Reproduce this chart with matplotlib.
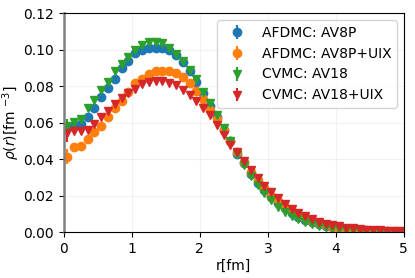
import numpy as np
import matplotlib
matplotlib.use("Agg")
import matplotlib.pyplot as plt

# radial grid (fm)
r = np.arange(0.05, 5.0, 0.1)

# density profiles
rho_av8p = [0.057, 0.058, 0.059, 0.063, 0.068, 0.074, 0.079, 0.084, 0.090, 0.094,
            0.098, 0.100, 0.101, 0.101, 0.101, 0.100, 0.097, 0.093, 0.088, 0.082,
            0.076, 0.069, 0.063, 0.056, 0.050, 0.043, 0.038, 0.032, 0.027, 0.023,
            0.019, 0.016, 0.013, 0.0105, 0.0085, 0.0068, 0.0054, 0.0043, 0.0034, 0.0027,
            0.0021, 0.0017, 0.0013, 0.0010, 0.0008, 0.0006, 0.0005, 0.0004, 0.0003, 0.0002]
err_av8p = [0.002, 0.001, 0.001, 0.0008, 0.0006, 0.0005, 0.0005, 0.0005, 0.0004, 0.0004,
            0.0004, 0.0004, 0.0004, 0.0004, 0.0004, 0.0004, 0.0004, 0.0004, 0.0004, 0.0004,
            0.0003, 0.0003, 0.0003, 0.0003, 0.0003, 0.0003, 0.0002, 0.0002, 0.0002, 0.0002,
            0.0002, 0.0002, 0.0002, 0.0001, 0.0001, 0.0001, 0.0001, 0.0001, 0.0001, 0.0001,
            0.0001, 0.0001, 0.0001, 0.0001, 0.0001, 0.0001, 0.0001, 0.0001, 0.0001, 0.0001]

rho_av8p_uix = [0.0413, 0.0464, 0.047, 0.0508, 0.055, 0.058, 0.063, 0.068, 0.072, 0.077,
                0.0815, 0.084, 0.0865, 0.088, 0.0885, 0.0885, 0.087, 0.0848, 0.0818, 0.0775,
                0.073, 0.067, 0.062, 0.056, 0.050, 0.044, 0.0385, 0.033, 0.0285, 0.024,
                0.020, 0.017, 0.014, 0.0115, 0.0093, 0.0075, 0.006, 0.0048, 0.0038, 0.003,
                0.0024, 0.0019, 0.0015, 0.0012, 0.0009, 0.0007, 0.00055, 0.00045, 0.00035, 0.0003]
err_av8p_uix = [0.004, 0.0015, 0.001, 0.0008, 0.0006, 0.0005, 0.0005, 0.0005, 0.0004, 0.0004,
                0.0004, 0.0004, 0.0004, 0.0004, 0.0004, 0.0004, 0.0004, 0.0004, 0.0004, 0.0004,
                0.0003, 0.0003, 0.0003, 0.0003, 0.0003, 0.0003, 0.0002, 0.0002, 0.0002, 0.0002,
                0.0002, 0.0002, 0.0002, 0.0001, 0.0001, 0.0001, 0.0001, 0.0001, 0.0001, 0.0001,
                0.0001, 0.0001, 0.0001, 0.0001, 0.0001, 0.0001, 0.0001, 0.0001, 0.0001, 0.0001]

rho_av18 = [0.058, 0.0605, 0.062, 0.068, 0.0725, 0.078, 0.0825, 0.088, 0.092, 0.096,
            0.100, 0.1025, 0.104, 0.104, 0.1035, 0.101, 0.0975, 0.094, 0.089, 0.084,
            0.077, 0.071, 0.064, 0.057, 0.050, 0.043, 0.037, 0.031, 0.026, 0.0215,
            0.0175, 0.014, 0.011, 0.0088, 0.007, 0.0055, 0.0043, 0.0033, 0.0026, 0.002,
            0.0015, 0.0012, 0.0009, 0.0007, 0.0005, 0.0004, 0.0003, 0.0002, 0.00015, 0.0001]
err_av18 = [0.004, 0.0015, 0.001, 0.0008, 0.0006, 0.0005, 0.0005, 0.0005, 0.0004, 0.0004,
            0.0004, 0.0004, 0.0004, 0.0004, 0.0004, 0.0004, 0.0004, 0.0004, 0.0004, 0.0004,
            0.0003, 0.0003, 0.0003, 0.0003, 0.0003, 0.0003, 0.0002, 0.0002, 0.0002, 0.0002,
            0.0002, 0.0002, 0.0002, 0.0001, 0.0001, 0.0001, 0.0001, 0.0001, 0.0001, 0.0001,
            0.0001, 0.0001, 0.0001, 0.0001, 0.0001, 0.0001, 0.0001, 0.0001, 0.0001, 0.0001]

rho_av18_uix = [0.0545, 0.0555, 0.0555, 0.0558, 0.0595, 0.063, 0.0663, 0.070, 0.0736, 0.076,
                0.0785, 0.081, 0.082, 0.0827, 0.0827, 0.0815, 0.0805, 0.0778, 0.075, 0.0718,
                0.068, 0.064, 0.0585, 0.053, 0.048, 0.044, 0.039, 0.034, 0.0295, 0.0255,
                0.022, 0.0185, 0.0155, 0.0128, 0.0105, 0.0087, 0.0071, 0.0058, 0.0047, 0.0038,
                0.0031, 0.0025, 0.002, 0.0016, 0.0013, 0.0011, 0.0009, 0.0007, 0.0006, 0.0005]
err_av18_uix = [0.005, 0.0015, 0.001, 0.0008, 0.0006, 0.0005, 0.0005, 0.0005, 0.0004, 0.0004,
                0.0004, 0.0004, 0.0004, 0.0004, 0.0004, 0.0004, 0.0004, 0.0004, 0.0004, 0.0004,
                0.0003, 0.0003, 0.0003, 0.0003, 0.0003, 0.0003, 0.0002, 0.0002, 0.0002, 0.0002,
                0.0002, 0.0002, 0.0002, 0.0001, 0.0001, 0.0001, 0.0001, 0.0001, 0.0001, 0.0001,
                0.0001, 0.0001, 0.0001, 0.0001, 0.0001, 0.0001, 0.0001, 0.0001, 0.0001, 0.0001]

fig = plt.figure(figsize=(4.15, 2.78), dpi=100)
ax = fig.add_axes([0.154, 0.165, 0.819, 0.788])

ax.errorbar(r, rho_av8p, yerr=err_av8p, fmt="o", label="AFDMC: AV8P")
ax.errorbar(r, rho_av8p_uix, yerr=err_av8p_uix, fmt="o", label="AFDMC: AV8P+UIX")
ax.errorbar(r, rho_av18, yerr=err_av18, fmt="v", label="CVMC: AV18")
ax.errorbar(r, rho_av18_uix, yerr=err_av18_uix, fmt="v", label="CVMC: AV18+UIX")

ax.set_xlim(0, 5)
ax.set_ylim(0, 0.12)
ax.set_xticks([0, 1, 2, 3, 4, 5])
ax.set_yticks([0.0, 0.02, 0.04, 0.06, 0.08, 0.10, 0.12])
ax.grid(alpha=0.15)
ax.spines["left"].set_color("gray")
ax.spines["left"].set_linewidth(1.8)
ax.set_xlabel("r[fm]", labelpad=2)
ax.set_ylabel(r"$\rho(r)$[fm $^{-3}$]", labelpad=1)
ax.legend(loc="upper right")

fig.savefig("out.png", dpi=100)
